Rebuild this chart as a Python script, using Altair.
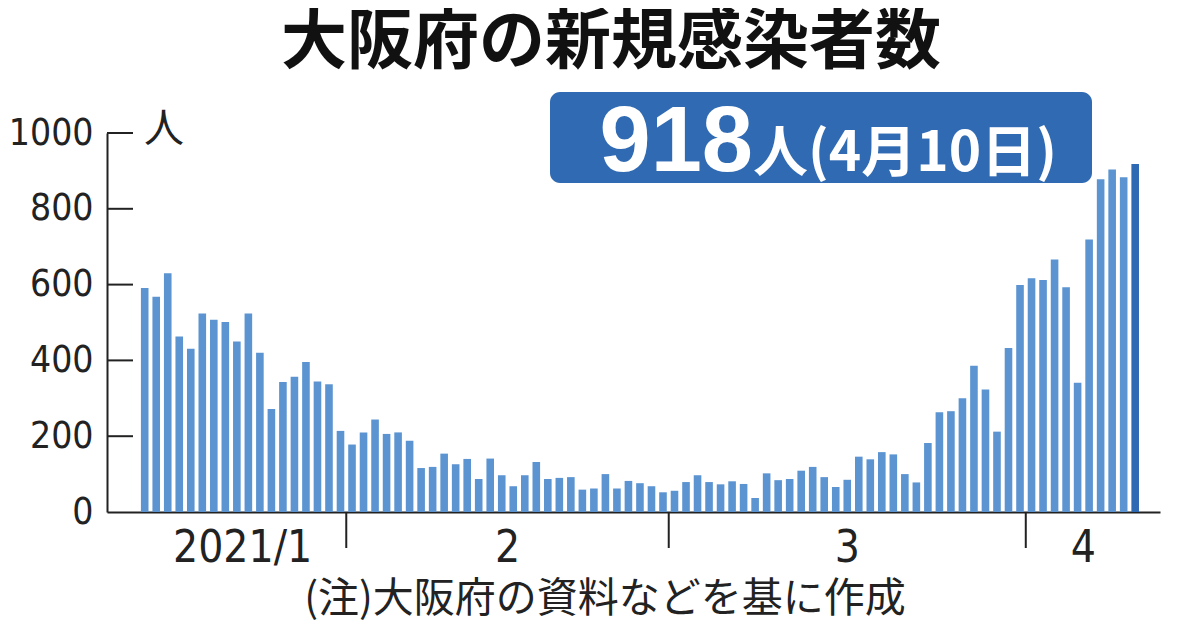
import altair as alt
import pandas as pd

# ---- data ----
start_date = "2021-01-14"
cases = [
    # Jan 14 - Jan 31
    591, 568, 630, 463, 431, 524, 507, 501, 450, 524, 420, 272, 343, 357, 396, 344, 337, 214,
    # Feb
    178, 210, 244, 206, 210, 188, 116, 119, 154, 126, 140, 87, 141, 97, 68, 97, 132, 87, 90, 92,
    59, 62, 100, 62, 82, 76, 68, 52,
    # Mar
    56, 79, 97, 79, 73, 81, 74, 37, 102, 84, 87, 109, 119, 92, 66, 85, 146, 139, 158, 152,
    100, 78, 182, 263, 266, 300, 386, 323, 212, 433, 599,
    # Apr
    617, 612, 666, 593, 341, 719, 878, 904, 883, 918,
]
month_labels = ["2021/1", "2", "3", "4"]
y_ticks = [0, 200, 400, 600, 800, 1000]
title_text = "大阪府の新規感染者数"
unit_text = "人"
big_number = "918"
big_suffix = "人(4月10日)"
note_text = "(注)大阪府の資料などを基に作成"

# ---- tables built from the arrays ----
dates = pd.date_range(start_date, periods=len(cases), freq="D")
df = pd.DataFrame({"day": list(range(len(cases))), "cases": cases, "month": dates.month})
df["kind"] = ["past"] * (len(cases) - 1) + ["latest"]

lab = df.groupby("month")["day"].mean().reset_index()
lab["label"] = month_labels
bnd = pd.DataFrame({"day": [d - 0.5 for d, dt in zip(df["day"], dates) if dt.day == 1]})
yt = pd.DataFrame({"cases": [v for v in y_ticks if v > 0]})

W, H = 1053, 379
NARROW = "Liberation Sans Narrow, DejaVu Sans Condensed, Arial Narrow, sans-serif"
CJK = "Noto Sans CJK JP"
INK = "#222222"

xscale = alt.Scale(domain=[-2.84, 87.72], nice=False, zero=False)
yscale = alt.Scale(domain=[0, 1000], nice=False)

X_AXIS = alt.Axis(domain=True, domainColor=INK, domainWidth=2, ticks=False,
                  labels=False, grid=False, title=None)
Y_AXIS = alt.Axis(values=y_ticks, format="d", ticks=False, labelFontSize=37, labelFont=NARROW,
                  labelColor=INK, labelPadding=14, domainColor=INK, domainWidth=2,
                  grid=False, title=None)

bars = alt.Chart(df).mark_bar(size=7.6).encode(
    x=alt.X("day:Q", scale=xscale, axis=X_AXIS),
    y=alt.Y("cases:Q", scale=yscale, axis=Y_AXIS),
    color=alt.Color("kind:N", scale=alt.Scale(domain=["past", "latest"],
                                              range=["#5b94d1", "#2e6ab4"]), legend=None),
)

ytick_rules = alt.Chart(yt).mark_rule(color=INK, strokeWidth=2).encode(
    y=alt.Y("cases:Q", scale=yscale, axis=Y_AXIS),
    x=alt.value(0), x2=alt.value(26),
)

month_ticks = alt.Chart(bnd).mark_rule(color=INK, strokeWidth=2).encode(
    x=alt.X("day:Q", scale=xscale, axis=X_AXIS),
    y=alt.value(H), y2=alt.value(H + 36),
)

month_text = alt.Chart(lab).mark_text(fontSize=44, font=NARROW, color=INK,
                                      baseline="middle", align="center").encode(
    x=alt.X("day:Q", scale=xscale, axis=X_AXIS),
    y=alt.value(H + 37),
    text="label:N",
)

def note(text, x, y, **kw):
    return alt.Chart(pd.DataFrame({"t": [text]})).mark_text(**kw).encode(
        text="t:N", x=alt.value(x), y=alt.value(y))

title = note(title_text, 504, -90, fontSize=66, font=CJK, fontWeight="bold",
             color="#111111", align="center", baseline="middle")
unit = note(unit_text, 57, -3, fontSize=40, font=CJK, color=INK,
            align="center", baseline="middle")
footer = note(note_text, 498, H + 88, fontSize=41, font=CJK, color=INK,
              align="center", baseline="middle")

box = alt.Chart(pd.DataFrame({"a": [1]})).mark_rect(color="#2f6ab3", cornerRadius=10).encode(
    x=alt.value(443), x2=alt.value(985), y=alt.value(-41), y2=alt.value(50))
num = note(big_number, 646, 38, fontSize=92, font="Liberation Sans", fontWeight="bold",
           color="white", align="right", baseline="alphabetic")
suffix = note(big_suffix, 646, 38, fontSize=55, font=CJK, fontWeight="bold",
              color="white", align="left", baseline="alphabetic")

chart = alt.layer(
    bars, ytick_rules, month_ticks, month_text, title, unit, footer, box, num, suffix
).properties(
    width=W, height=H,
    autosize=alt.AutoSizeParams(type="none"),
    padding={"left": 99, "top": 125, "right": 32, "bottom": 110},
    background="white",
).configure_view(stroke=None)

chart.save("out.html", embed_options={"renderer": "svg", "actions": False})
